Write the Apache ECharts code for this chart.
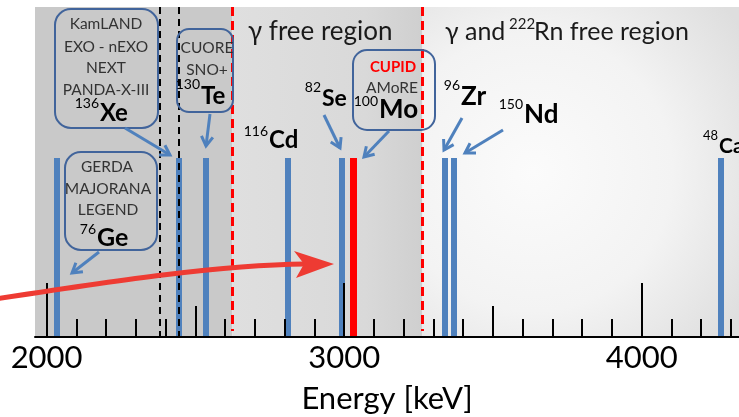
<!DOCTYPE html>
<html>
<head>
<meta charset="utf-8">
<script src="https://cdn.jsdelivr.net/npm/echarts@6/dist/echarts.min.js"></script>
<style>html,body{margin:0;padding:0;background:#fff}#c{width:739px;height:417px}</style>
</head>
<body>
<div id="c"></div>
<script>
// ---------------- data ----------------
const isotopes = ['76Ge', '136Xe', '130Te', '116Cd', '82Se', '100Mo', '96Zr', '150Nd', '48Ca'];
const qValues = [2034, 2443, 2535, 2812, 2992, 3031, 3339, 3367, 4266]; // keV
const highlighted = '100Mo';
const gammaLines = [2381, 2443];      // black dashed lines (keV)
const regionEdges = [2624, 3263];     // red dashed lines (keV)
const majorTicks = [2000, 3000, 4000];
const midTicks = [2500, 3500];
const minorTicks = [2000, 2100, 2200, 2300, 2400, 2500, 2600, 2700, 2800, 2900, 3000,
                    3100, 3200, 3300, 3400, 3500, 3600, 3700, 3800, 3900, 4000, 4100, 4200, 4300];
const tickLabels = ['2000', '3000', '4000'];
const regionNames = ['γ free region', 'γ and ', '222', 'Rn free region'];

// ---------------- layout / style ----------------
const X_MIN = 1961, X_MAX = 4327;
const Y_MAX = 330, LINE_TOP = 179, RED_DASH_BOTTOM = 6;
const FONT = 'Lato';
const BLUE = '#4f81bd', BOX = '#41649b', RED = '#ff0000', TXT = '#333333';

const chart = echarts.init(document.getElementById('c'), null, {renderer: 'canvas', width: 739, height: 417});

function txt(x, y, s, size, o) {
  o = o || {};
  return {type: 'text', x: x, y: y, z: 100, silent: true,
    style: {text: s, fill: o.color || '#000', fontSize: size, fontFamily: FONT,
      fontWeight: o.weight || 'normal', align: o.align || 'center', verticalAlign: 'middle'}};
}
function iso(split, supY, mainY, sup, el, size, supSize) {
  return [txt(split, supY - 3, sup, supSize || 14, {align: 'right', color: '#000'}),
          txt(split + 1, mainY, el, size, {align: 'left', weight: 'bold'})];
}
function box(x, y, w, h, r) {
  return {type: 'rect', z: 99, silent: true, shape: {x: x, y: y, width: w, height: h, r: r},
    style: {fill: 'rgba(0,0,0,0)', stroke: BOX, lineWidth: 2}};
}
function arrow(x1, y1, x2, y2, color, w, hl) {
  const a = Math.atan2(y2 - y1, x2 - x1), sp = 0.55;
  const p1 = [x2 - hl * Math.cos(a - sp), y2 - hl * Math.sin(a - sp)];
  const p2 = [x2 - hl * Math.cos(a + sp), y2 - hl * Math.sin(a + sp)];
  return [
    {type: 'line', z: 99, silent: true, shape: {x1: x1, y1: y1, x2: x2, y2: y2}, style: {stroke: color, lineWidth: w}},
    {type: 'polyline', z: 99, silent: true, shape: {points: [p1, [x2, y2], p2]}, style: {stroke: color, lineWidth: w, fill: null}}
  ];
}

const graphics = [].concat(
  // region titles
  [txt(248, 32, regionNames[0], 26, {align: 'left', color: '#1a1a1a'})],
  [txt(445, 32, regionNames[1], 25, {align: 'left', color: '#1a1a1a'}),
   txt(509, 24, regionNames[2], 15, {align: 'left', color: '#1a1a1a'}),
   txt(534, 32, regionNames[3], 25, {align: 'left', color: '#1a1a1a'})],
  // Xe callout
  [box(55, 9, 103, 119, 16),
   txt(106, 24, 'KamLAND', 15.5, {color: TXT}), txt(106, 47, 'EXO - nEXO', 15.5, {color: TXT}),
   txt(106, 68, 'NEXT', 15.5, {color: TXT}), txt(106, 90, 'PANDA-X-III', 15.5, {color: TXT})],
  iso(99, 106, 113, '136', 'Xe', 24),
  arrow(125, 128, 170, 155, BLUE, 3, 11),
  // Te callout
  [box(177, 29, 56, 83, 12),
   txt(207, 48, 'CUORE', 15.5, {color: TXT}), txt(207, 70, 'SNO+', 15.5, {color: TXT})],
  iso(200, 87, 96, '130', 'Te', 24),
  arrow(210, 114, 206, 146, BLUE, 3, 11),
  // Ge callout
  [box(65, 152, 92, 98, 16),
   txt(107, 167, 'GERDA', 15.5, {color: TXT}), txt(108, 189, 'MAJORANA', 15.5, {color: TXT}),
   txt(108, 210, 'LEGEND', 15.5, {color: TXT})],
  iso(96, 232, 238, '76', 'Ge', 25),
  arrow(99, 252, 72, 273, BLUE, 3, 11),
  // Cd, Se
  iso(268, 134, 140, '116', 'Cd', 24),
  iso(321, 90, 99, '82', 'Se', 23),
  arrow(324, 115, 340, 148, BLUE, 3, 11),
  // CUPID callout
  [box(353, 50, 82, 80, 14),
   txt(393, 67, 'CUPID', 15, {color: '#ff0000', weight: 'bold'}), txt(392, 88, 'AMoRE', 15.5, {color: TXT})],
  iso(378, 104, 110, '100', 'Mo', 26),
  arrow(389, 131, 364, 157, BLUE, 3, 11),
  // Zr, Nd, Ca
  iso(460, 88, 97, '96', 'Zr', 26),
  arrow(462, 118, 444, 150, BLUE, 3, 11),
  iso(523, 107, 115, '150', 'Nd', 26),
  arrow(503, 130, 465, 153, BLUE, 3, 11),
  iso(718, 139, 146, '48', 'Ca', 21, 13),
  // red curved arrow
  [{type: 'bezierCurve', z: 101, silent: true,
    shape: {x1: -5, y1: 299, cpx1: 120, cpy1: 280, cpx2: 220, cpy2: 265, x2: 305, y2: 264},
    style: {stroke: '#ee3b33', lineWidth: 5, fill: null}},
   {type: 'polygon', z: 101, silent: true,
    shape: {points: [[294, 251], [334, 264], [296, 278], [304, 264]]},
    style: {fill: '#ee3b33', stroke: null}}]
);

function tickAxis(values, len, extra) {
  return Object.assign({
    type: 'value', gridIndex: 0, min: X_MIN, max: X_MAX, z: 10, position: 'bottom',
    axisLine: {show: false},
    axisTick: {show: true, inside: true, length: len, customValues: values, lineStyle: {color: '#000', width: 2}},
    axisLabel: {show: false},
    splitLine: {show: false}
  }, extra || {});
}

const option = {
  animation: false,
  backgroundColor: '#ffffff',
  grid: {left: 35, right: 0, top: 7, bottom: 80, containLabel: false, outerBoundsMode: 'none'},
  xAxis: [
    tickAxis(majorTicks, 54, {
      axisLine: {show: true, lineStyle: {color: '#000', width: 2}},
      axisLabel: {show: true, customValues: majorTicks,
        formatter: function (v) { return tickLabels[majorTicks.indexOf(v)]; },
        fontSize: 31, fontFamily: FONT, color: '#000', margin: 5},
      name: 'Energy [keV]', nameLocation: 'middle', nameGap: 46,
      nameTextStyle: {fontSize: 31, fontFamily: FONT, color: '#000'}
    }),
    tickAxis(midTicks, 31),
    tickAxis(minorTicks, 18)
  ],
  yAxis: {type: 'value', min: 0, max: Y_MAX, show: false},
  series: [
    {
      type: 'line', data: [], silent: true,
      markArea: {
        silent: true,
        data: [
          [{xAxis: X_MIN, itemStyle: {color: '#c9c9c9'}}, {xAxis: regionEdges[0]}],
          [{xAxis: regionEdges[0], itemStyle: {color: new echarts.graphic.LinearGradient(0, 0, 1, 0, [
            {offset: 0, color: '#dfdfdf'}, {offset: 0.7, color: '#d9d9d9'}, {offset: 1, color: '#cfcfcf'}])}},
           {xAxis: regionEdges[1]}],
          [{xAxis: regionEdges[1], itemStyle: {color: new echarts.graphic.RadialGradient(0.35, 0.5, 0.8, [
            {offset: 0, color: '#fbfbfb'}, {offset: 0.55, color: '#f3f3f3'}, {offset: 1, color: '#dedede'}])}},
           {xAxis: X_MAX}]
        ]
      }
    },
    {
      type: 'line', data: [], silent: true,
      markLine: {
        silent: true, symbol: ['none', 'none'], label: {show: false},
        data: qValues.map(function (q, i) {
          const hi = isotopes[i] === highlighted;
          return [{coord: [q, 0], lineStyle: {color: hi ? RED : BLUE, width: hi ? 7 : 6, type: 'solid'}},
                  {coord: [q, LINE_TOP]}];
        })
      }
    },
    {
      type: 'line', data: [], silent: true,
      markLine: {
        silent: true, symbol: ['none', 'none'], label: {show: false},
        lineStyle: {color: '#000', width: 2, type: [7, 5]},
        data: gammaLines.map(function (g) { return [{coord: [g, Y_MAX]}, {coord: [g, 0]}]; })
      }
    },
    {
      type: 'line', data: [], silent: true,
      markLine: {
        silent: true, symbol: ['none', 'none'], label: {show: false},
        lineStyle: {color: RED, width: 3, type: [9, 5]},
        data: regionEdges.map(function (r) { return [{coord: [r, Y_MAX]}, {coord: [r, RED_DASH_BOTTOM]}]; })
      }
    }
  ],
  graphic: graphics
};
chart.setOption(option);
</script>
</body>
</html>
